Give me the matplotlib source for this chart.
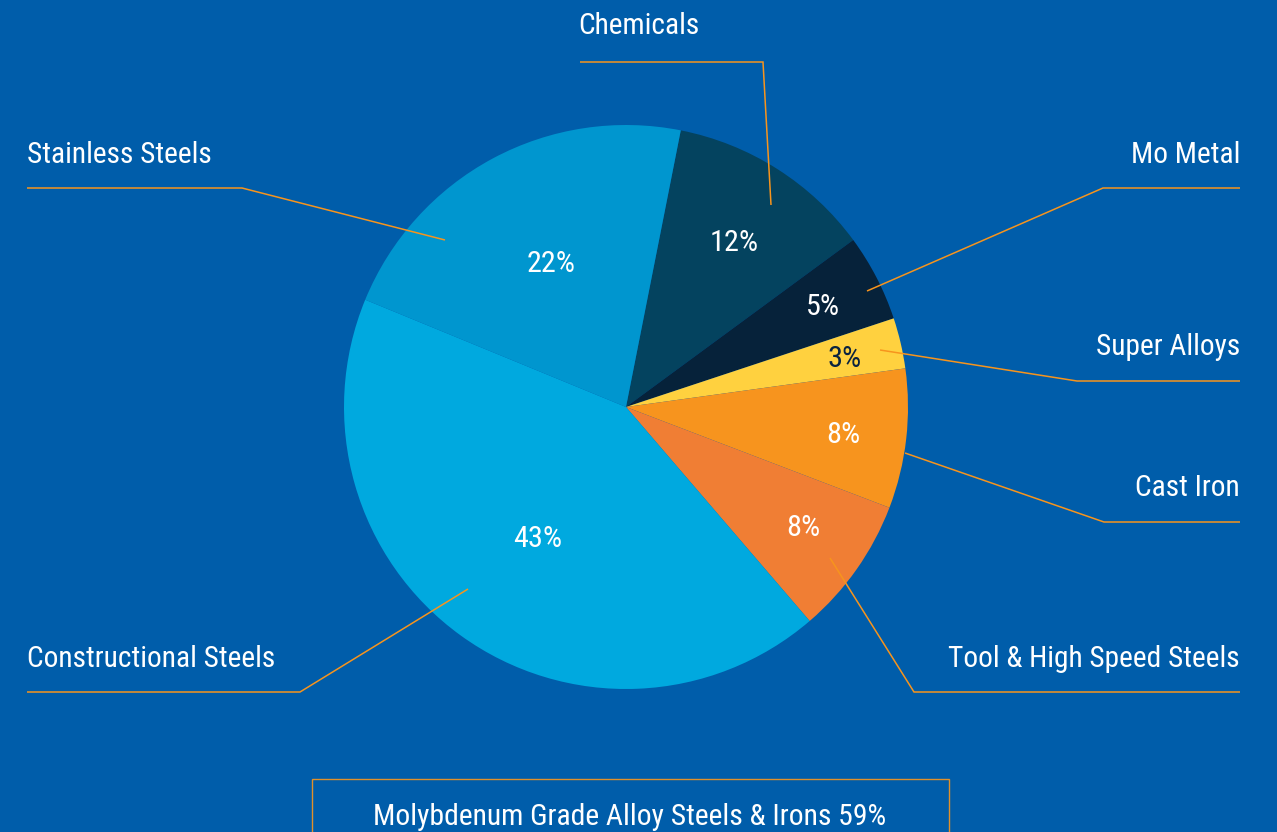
import os
import matplotlib
matplotlib.use("Agg")
import matplotlib.pyplot as plt
from matplotlib.patches import Rectangle
from matplotlib import font_manager as fm

# ---- data ----
categories = ["Chemicals", "Mo Metal", "Super Alloys", "Cast Iron",
              "Tool & High Speed Steels", "Constructional Steels", "Stainless Steels"]
values = [11.8, 5.0, 2.9, 8.0, 7.9, 42.5, 21.9]
pct_labels = ["12%", "5%", "3%", "8%", "8%", "43%", "22%"]
colors = ["#04435F", "#06223A", "#FFD13F", "#F7941E", "#F07E34", "#00A9DF", "#0096CF"]
pct_colors = ["white", "white", "#0B2340", "white", "white", "white", "white"]
summary = "Molybdenum Grade Alloy Steels & Irons 59%"

BG = "#005DAA"
LINE = "#F7941D"
W, H = 1277, 832

# pick a condensed font if available
cands = ["LiberationSansNarrow-Regular", "RobotoCondensed-Regular",
         "DejaVuSansCondensed.", "OpenSans_Condensed-Regular", "OpenSansCondensed"]
files = [f.fname for f in fm.fontManager.ttflist]
chosen = None
for c in cands:
    for fn in files:
        if c.lower() in os.path.basename(fn).lower():
            chosen = fn
            break
    if chosen:
        break
if chosen:
    FP = fm.FontProperties(fname=chosen)
    scale = 1.0
else:
    FP = fm.FontProperties(family='DejaVu Sans')
    scale = 0.85

def fp(size):
    p = FP.copy()
    p.set_size(size * scale)
    return p

fig = plt.figure(figsize=(W / 100, H / 100), dpi=100)
fig.patch.set_facecolor(BG)
ax = fig.add_axes([0, 0, 1, 1])
ax.set_facecolor(BG)

def Y(y):
    return H - y

cx, cy, R = 626, Y(407), 282
ax.pie(values, colors=colors, startangle=78.8, counterclock=False,
       center=(cx, cy), radius=R, frame=True,
       wedgeprops=dict(linewidth=0))
ax.set_xlim(0, W)
ax.set_ylim(0, H)
ax.set_aspect('equal')
ax.axis('off')

# percent labels (layout positions)
pct_pos = [(734, 243), (823, 307), (845, 359), (843, 435), (803, 528), (538, 539), (551, 264)]
for (x, y), t, c in zip(pct_pos, pct_labels, pct_colors):
    ax.text(x, Y(y), t, color=c, fontproperties=fp(21.8), ha='center', va='center')

# category labels and leader lines
label_specs = [
    (639, 26, 'center', [(580, 62), (763, 62), (771, 205)]),
    (1240, 155, 'right', [(1240, 188), (1103, 188), (867, 291)]),
    (1240, 347, 'right', [(1240, 381), (1077, 381), (880, 350)]),
    (1240, 488, 'right', [(1240, 522), (1104, 522), (905, 453)]),
    (1240, 659, 'right', [(1240, 692), (914, 692), (830, 558)]),
    (27, 659, 'left', [(27, 692), (300, 692), (468, 589)]),
    (27, 155, 'left', [(27, 188), (242, 188), (445, 240)]),
]
for name, (tx, ty, ha, pts) in zip(categories, label_specs):
    ax.text(tx, Y(ty), name, color='white', fontproperties=fp(21.2), ha=ha, va='center')
    ax.plot([p[0] for p in pts], [Y(p[1]) for p in pts], color=LINE, lw=1.1,
            solid_capstyle='butt', solid_joinstyle='miter')

# bottom box
ax.add_patch(Rectangle((312, Y(860)), 949 - 312, 860 - 779, fill=False,
                       edgecolor="#E0902A", lw=1.0, clip_on=True))
ax.text(630, Y(817), summary, color='white', fontproperties=fp(21.3), ha='center', va='center')

fig.savefig("out.png", dpi=100, facecolor=BG)
